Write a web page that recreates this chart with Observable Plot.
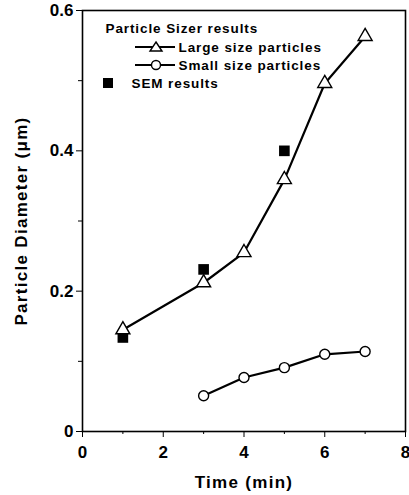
<!DOCTYPE html>
<html><head><meta charset="utf-8">
<script src="https://cdn.jsdelivr.net/npm/d3@7"></script>
<script src="https://cdn.jsdelivr.net/npm/@observablehq/plot@0.6"></script>
<style>
body{margin:0;background:#fff;font-family:"Liberation Sans",Arial,sans-serif;}
#chart svg{overflow:visible}
</style>
</head><body><div id="chart"></div>
<script>
const largeTime = [1, 3, 4, 5, 6, 7];
const largeDiam = [0.145, 0.212, 0.255, 0.359, 0.496, 0.563];
const smallTime = [3, 4, 5, 6, 7];
const smallDiam = [0.051, 0.077, 0.091, 0.110, 0.114];
const semTime = [1, 3, 5];
const semDiam = [0.134, 0.231, 0.400];
const xTicks = [0, 2, 4, 6, 8];
const xMinor = [1, 3, 5, 7];
const yTicks = [0, 0.2, 0.4, 0.6];
const yMinor = [0.1, 0.3, 0.5];
const yTickLabels = ["0", "0.2", "0.4", "0.6"];
const legendTitle = "Particle Sizer results";
const legendLabels = ["Large size particles", "Small size particles", "SEM results"];

const large = largeTime.map((t, i) => ({t, d: largeDiam[i]}));
const small = smallTime.map((t, i) => ({t, d: smallDiam[i]}));
const sem = semTime.map((t, i) => ({t, d: semDiam[i]}));

const legendStyle = {frameAnchor: "top-left", text: d => d, textAnchor: "start", lineAnchor: "middle", fontSize: 13.5, fontWeight: "bold"};
const plot = Plot.plot({
  width: 409, height: 495,
  marginTop: 10, marginBottom: 64, marginLeft: 82, marginRight: 4,
  style: {fontFamily: "Liberation Sans, Arial, sans-serif", background: "#fff", color: "#000"},
  x: {domain: [0, 8]},
  y: {domain: [0, 0.6]},
  marks: [
    Plot.frame({stroke: "#000", strokeWidth: 1.6}),
    Plot.axisX({ticks: xTicks, tickSize: 6, tickPadding: 8, fontSize: 17, fontWeight: "bold",
      label: "Time (min)", labelAnchor: "center", labelArrow: "none", labelOffset: 56}),
    Plot.axisX({ticks: xMinor, tickSize: 3, tickFormat: () => "", label: null}),
    Plot.axisY({ticks: yTicks, tickSize: 6, tickPadding: 3, fontSize: 17, fontWeight: "bold",
      tickFormat: (d) => yTickLabels[yTicks.indexOf(d)],
      label: "Particle Diameter (μm)", labelAnchor: "center", labelArrow: "none", labelOffset: 68}),
    Plot.axisY({ticks: yMinor, tickSize: 4, tickFormat: () => "", label: null}),
    Plot.line(large, {x: "t", y: "d", stroke: "#000", strokeWidth: 2.2}),
    Plot.line(small, {x: "t", y: "d", stroke: "#000", strokeWidth: 2.2}),
    Plot.dot(sem, {x: "t", y: "d", symbol: "square", r: 6, fill: "#000", stroke: "none"}),
    Plot.dot(large, {x: "t", y: "d", symbol: "triangle", r: 5.2, fill: "#fff", stroke: "#000", strokeWidth: 1.4}),
    Plot.dot(small, {x: "t", y: "d", symbol: "circle", r: 5, fill: "#fff", stroke: "#000", strokeWidth: 1.4}),
    // legend
    Plot.text([legendTitle], {...legendStyle, dx: 23, dy: 18}),
    Plot.text([legendLabels[0]], {...legendStyle, dx: 96, dy: 37}),
    Plot.text([legendLabels[1]], {...legendStyle, dx: 96, dy: 55}),
    Plot.text([legendLabels[2]], {...legendStyle, dx: 49, dy: 73})
  ]
});
document.getElementById("chart").appendChild(plot);

// letter spacing to mimic the original typesetting
const svg = d3.select(plot);
svg.selectAll("g[aria-label='text'] text").style("letter-spacing", "0.9px");
svg.selectAll("g[aria-label='x-axis label'] text, g[aria-label='y-axis label'] text")
  .style("letter-spacing", "1.3px").style("font-size", "17px").style("font-weight", "bold");

// legend symbols drawn in pixel space relative to frame
const ox = 82, oy = 10;
const g = svg.append("g").attr("stroke", "#000").attr("stroke-width", 2.2);
[37, 55].forEach((dy, i) => {
  g.append("line").attr("x1", ox + 53).attr("x2", ox + 93).attr("y1", oy + dy).attr("y2", oy + dy);
  if (i === 0) {
    const cx = ox + 74, cy = oy + dy;
    g.append("path").attr("d", `M${cx},${cy-5}L${cx+6},${cy+4}L${cx-6},${cy+4}Z`).attr("fill", "#fff").attr("stroke-width", 1.4);
  } else {
    g.append("circle").attr("cx", ox + 74).attr("cy", oy + dy).attr("r", 4.5).attr("fill", "#fff").attr("stroke-width", 1.4);
  }
});
g.append("rect").attr("x", ox + 21).attr("y", oy + 68).attr("width", 10).attr("height", 10).attr("fill", "#000").attr("stroke", "none");
</script>
</body></html>
